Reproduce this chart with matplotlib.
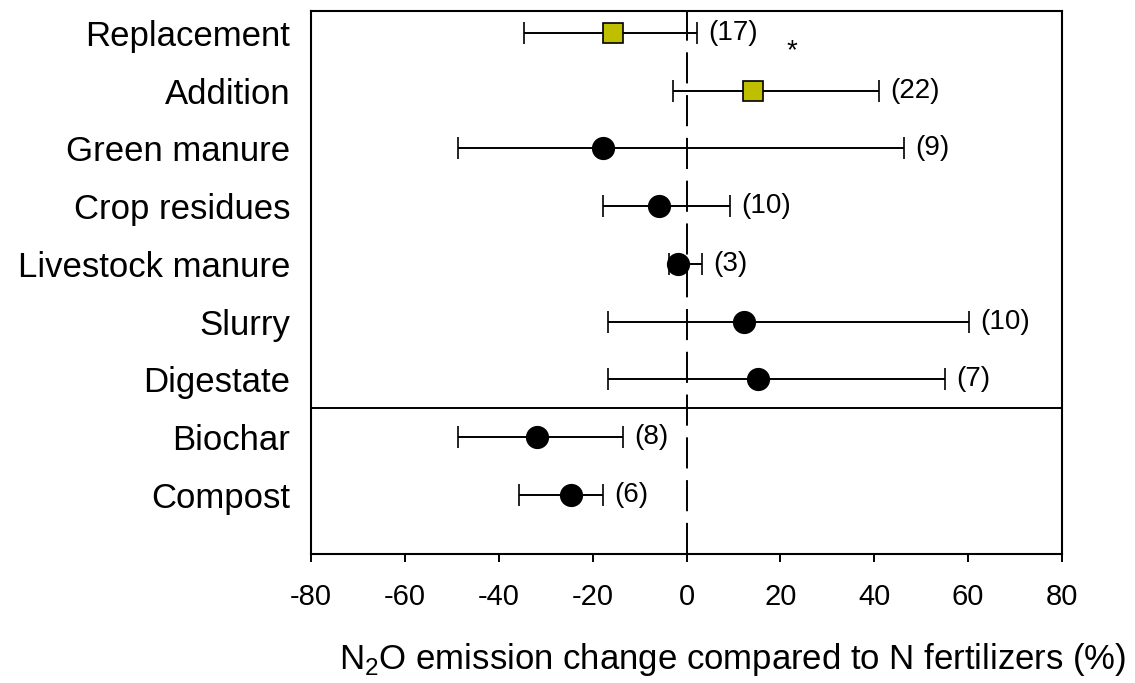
import numpy as np
import matplotlib
matplotlib.use("Agg")
import matplotlib.pyplot as plt

plt.rcParams['font.family'] = ['Liberation Sans', 'DejaVu Sans']
plt.rcParams['mathtext.fontset'] = 'custom'
plt.rcParams['mathtext.rm'] = 'Liberation Sans'
plt.rcParams['axes.unicode_minus'] = False

# data
categories = ['Replacement', 'Addition', 'Green manure', 'Crop residues',
              'Livestock manure', 'Slurry', 'Digestate', 'Biochar', 'Compost']
means = [-15.7, 14.2, -17.7, -5.8, -1.8, 12.2, 15.2, -31.8, -24.7]
lower = [-34.7, -2.8, -48.6, -17.7, -3.7, -16.8, -16.8, -48.7, -35.6]
upper = [2.3, 41.1, 46.3, 9.3, 3.3, 60.2, 55.1, -13.6, -17.7]
counts = [17, 22, 9, 10, 3, 10, 7, 8, 6]
square_rows = ['Replacement', 'Addition']

fig = plt.figure(figsize=(11.35, 6.83), dpi=100)
ax = fig.add_axes([0.274, 0.189, 0.6617, 0.795])

y = np.arange(len(categories))
means = np.array(means)
err = np.array([means - np.array(lower), np.array(upper) - means])

ax.axvline(0, color='black', lw=1.4, linestyle=(0, (16, 6)), zorder=1)
ax.axhline(6.5, color='black', lw=1.4, zorder=1)

for i, cat in enumerate(categories):
    is_sq = cat in square_rows
    ax.errorbar(means[i], y[i], xerr=err[:, i:i + 1], fmt='s' if is_sq else 'o',
                color='black', mfc='#bfbf00' if is_sq else 'black', mec='black',
                ms=15 if is_sq else 15.5, mew=1.2, elinewidth=1.4, capsize=8,
                capthick=1.4, zorder=3)
    ax.annotate('(%d)' % counts[i], (upper[i], y[i]), xytext=(8, 0),
                textcoords='offset points', va='center', ha='left', fontsize=20)

ax.text(22.4, 0.32, '*', ha='center', va='center', fontsize=20)

ax.set_xlim(-80, 80)
ax.set_ylim(9.02, -0.38)
ax.set_xticks(np.arange(-80, 81, 20))
ax.set_yticks(y)
ax.set_yticklabels(categories, fontsize=25)
ax.tick_params(axis='y', length=0, pad=15)
ax.tick_params(axis='x', direction='out', length=6, width=1.4, labelsize=21, pad=15)
for s in ax.spines.values():
    s.set_linewidth(1.5)

ax.set_xlabel(r'N$_\mathrm{2}$O emission change compared to N fertilizers (%)',
              fontsize=25)
ax.xaxis.set_label_coords(1.085, -0.16)
ax.xaxis.label.set_ha('right')

fig.savefig('out.png', dpi=100)
